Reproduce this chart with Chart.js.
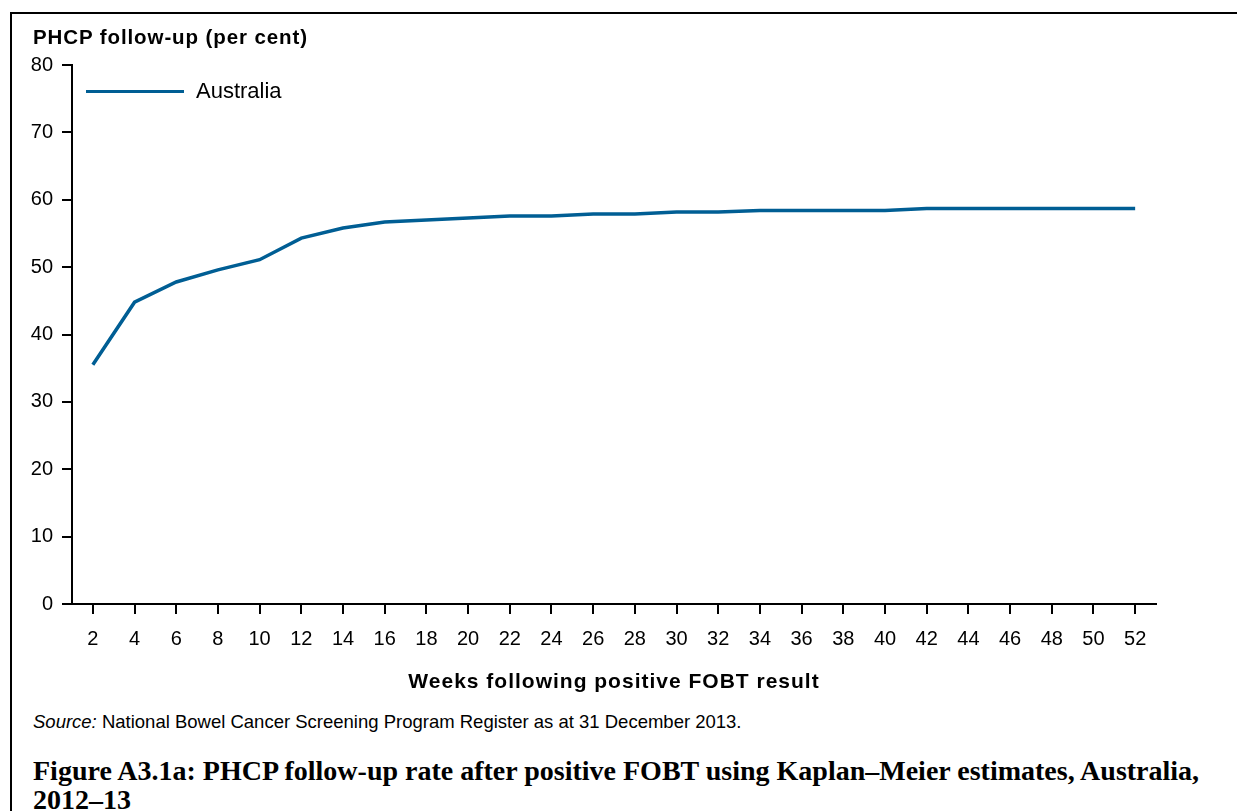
<!DOCTYPE html>
<html>
<head>
<meta charset="utf-8">
<script src="https://cdn.jsdelivr.net/npm/chart.js@4.4.1/dist/chart.umd.min.js"></script>
<style>
  html, body { margin: 0; padding: 0; background: #fff; }
  body { width: 1237px; height: 811px; position: relative; overflow: hidden; font-family: "Liberation Sans", Arial, sans-serif; color: #000; }
  #frame { position: absolute; left: 10px; top: 12px; width: 1240px; height: 820px; border-top: 2px solid #000; border-left: 2px solid #000; }
  #wrap { position: absolute; left: 0; top: 0; width: 1237px; height: 700px; }
  .txt { position: absolute; white-space: nowrap; }
  #ytitle { left: 33px; top: 25px; font-weight: bold; font-size: 20.5px; line-height: 24px; letter-spacing: 0.9px; }
  #xtitle { left: 398px; width: 432px; top: 669px; text-align: center; font-weight: bold; font-size: 21px; line-height: 24px; letter-spacing: 1px; }
  #legend { left: 86px; top: 78px; height: 26px; }
  #legline { position: absolute; left: 0; top: 11.5px; width: 98px; height: 3.5px; background: #005e94; }
  #legtext { position: absolute; left: 110px; top: 0; font-size: 22px; line-height: 26px; }
  #source { left: 33px; top: 711px; font-size: 18.5px; line-height: 22px; }
  #caption { left: 33px; top: 756px; font-family: "Liberation Serif", "Times New Roman", serif; font-weight: bold; font-size: 28px; line-height: 29px; white-space: normal; width: 1195px; }
</style>
</head>
<body>
<div id="frame"></div>
<div id="wrap"><canvas id="c" width="1237" height="700"></canvas></div>
<div class="txt" id="ytitle">PHCP follow-up (per cent)</div>
<div class="txt" id="xtitle">Weeks following positive FOBT result</div>
<div class="txt" id="legend"><div id="legline"></div><div id="legtext">Australia</div></div>
<div class="txt" id="source"><i>Source:</i> National Bowel Cancer Screening Program Register as at 31 December 2013.</div>
<div class="txt" id="caption">Figure A3.1a: PHCP follow-up rate after positive FOBT using Kaplan–Meier estimates, Australia, 2012–13</div>
<script>
const weeks = ['2','4','6','8','10','12','14','16','18','20','22','24','26','28','30','32','34','36','38','40','42','44','46','48','50','52'];
const australia = [35.5, 44.8, 47.8, 49.6, 51.1, 54.3, 55.8, 56.7, 57.0, 57.3, 57.6, 57.6, 57.9, 57.9, 58.2, 58.2, 58.4, 58.4, 58.4, 58.4, 58.7, 58.7, 58.7, 58.7, 58.7, 58.7];
const yTicks = [0, 10, 20, 30, 40, 50, 60, 70, 80];
const seriesLabel = 'Australia';

Chart.defaults.font.family = '"Liberation Sans", Arial, sans-serif';
Chart.defaults.color = '#000';

new Chart(document.getElementById('c'), {
  type: 'line',
  data: {
    labels: weeks,
    datasets: [{
      label: seriesLabel,
      data: australia,
      borderColor: '#005e94',
      backgroundColor: '#005e94',
      borderWidth: 3.5,
      pointRadius: 0,
      tension: 0,
      fill: false
    }]
  },
  options: {
    responsive: false,
    animation: false,
    layout: { padding: { top: 65, right: 81, left: 0, bottom: 0 } },
    plugins: { legend: { display: false }, tooltip: { enabled: false } },
    scales: {
      x: {
        type: 'category',
        offset: true,
        grid: { display: true, drawOnChartArea: false, drawTicks: true, tickLength: 10, offset: false, color: '#000', lineWidth: 2 },
        border: { display: true, color: '#000', width: 2 },
        ticks: { font: { size: 20 }, padding: 13, maxRotation: 0, autoSkip: false },
        afterFit: (s) => { s.height = 96; }
      },
      y: {
        min: 0, max: 80,
        afterBuildTicks: (s) => { s.ticks = yTicks.map(v => ({ value: v })); },
        grid: { display: true, drawOnChartArea: false, drawTicks: true, tickLength: 10, color: '#000', lineWidth: 2 },
        border: { display: true, color: '#000', width: 2 },
        ticks: { font: { size: 20 }, padding: 9 },
        afterFit: (s) => { s.width = 72; }
      }
    }
  }
});
</script>
</body>
</html>
